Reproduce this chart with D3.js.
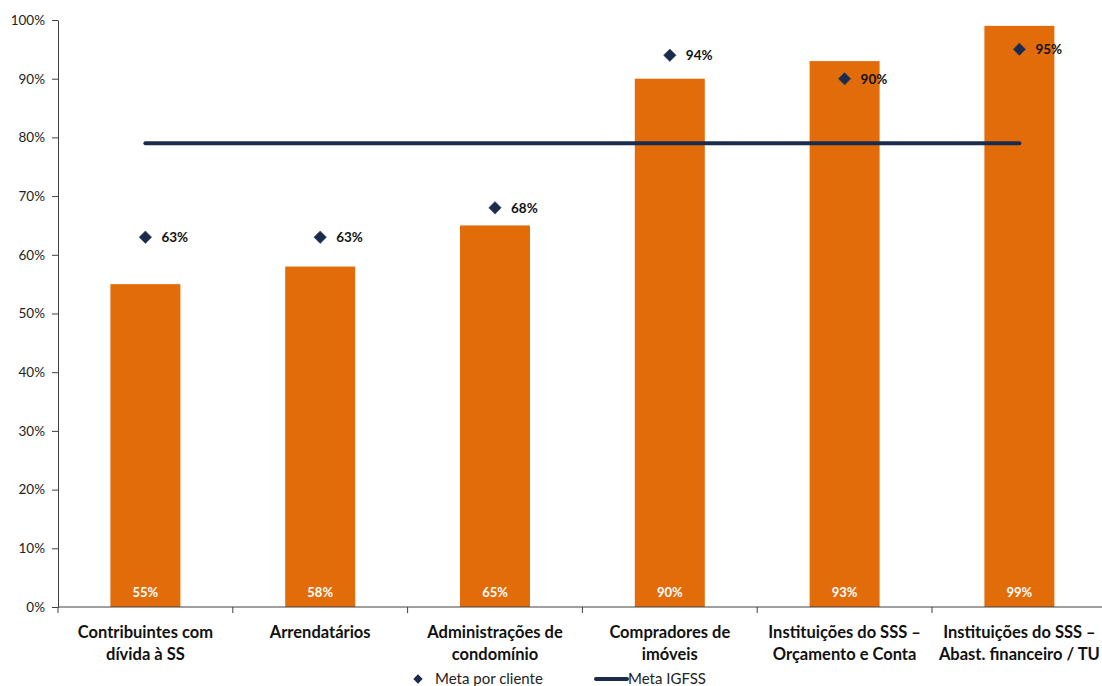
<!DOCTYPE html>
<html>
<head>
<meta charset="utf-8">
<script src="https://cdn.jsdelivr.net/npm/d3@7"></script>
<style>
  html, body { margin: 0; padding: 0; background: #fff; }
  svg { display: block; font-family: Lato, "Open Sans", sans-serif; }
</style>
</head>
<body>
<svg id="chart" width="1102" height="686"></svg>
<script>
// Categories (two-line labels)
const categories = [
  ["Contribuintes com", "dívida à SS"],
  ["Arrendatários"],
  ["Administrações de", "condomínio"],
  ["Compradores de", "imóveis"],
  ["Instituições do SSS –", "Orçamento e Conta"],
  ["Instituições do SSS –", "Abast. financeiro / TU"]
];
const results = [55, 58, 65, 90, 93, 99];        // bar values (%)
const metaCliente = [63, 63, 68, 94, 90, 95];    // target per client (%)
const metaIGFSS = 79;                             // overall target (%)
const yTicks = [0, 10, 20, 30, 40, 50, 60, 70, 80, 90, 100];

const orange = "#E36C0A";
const navy = "#1B2B4B";

const svg = d3.select("#chart");
const margin = { left: 58 };
const bandW = 174.8;
const x = d3.scaleBand()
  .domain(d3.range(categories.length))
  .range([margin.left, margin.left + bandW * categories.length])
  .paddingInner(0).paddingOuter(0);
const y = d3.scaleLinear().domain([0, 100]).range([607, 20]);
const barW = 70;
const cx = i => x(i) + x.bandwidth() / 2;

// Bars
svg.append("g").selectAll("rect").data(results).join("rect")
  .attr("x", (d, i) => cx(i) - barW / 2)
  .attr("y", d => y(d))
  .attr("width", barW)
  .attr("height", d => y(0) - y(d))
  .attr("fill", orange);

// Bar value labels (inside, at base)
svg.append("g").selectAll("text").data(results).join("text")
  .attr("x", (d, i) => cx(i))
  .attr("y", y(0) - 10)
  .attr("text-anchor", "middle")
  .attr("fill", "#fff")
  .attr("font-size", 13)
  .attr("font-weight", "bold")
  .text(d => d + "%");

// Y axis
const yAxis = d3.axisLeft(y).tickValues(yTicks).tickFormat(d => d + "%").tickSize(6).tickSizeOuter(0);
const gy = svg.append("g").attr("transform", `translate(${margin.left},0)`).call(yAxis);
gy.select(".domain").attr("stroke", "#404040");
gy.selectAll(".tick line").attr("stroke", "#404040");
gy.selectAll(".tick text").attr("font-size", 13.5).attr("fill", "#222").attr("x", -13)
  .attr("font-family", "Lato, sans-serif");

// X axis with category boundary ticks
svg.append("line")
  .attr("x1", margin.left).attr("x2", 1102)
  .attr("y1", y(0)).attr("y2", y(0))
  .attr("stroke", "#404040");
svg.append("g").selectAll("line").data(d3.range(categories.length + 1)).join("line")
  .attr("x1", i => margin.left + i * bandW).attr("x2", i => margin.left + i * bandW)
  .attr("y1", y(0)).attr("y2", y(0) + 6)
  .attr("stroke", "#404040");

// Category labels
const catG = svg.append("g").selectAll("text").data(categories).join("text")
  .attr("text-anchor", "middle")
  .attr("font-size", 16.5)
  .attr("font-weight", "bold")
  .attr("fill", "#111");
catG.each(function (lines, i) {
  const t = d3.select(this);
  lines.forEach((ln, k) => {
    t.append("tspan")
      .attr("x", cx(i))
      .attr("y", 638 + k * 21.5)
      .text(ln);
  });
});

// Meta IGFSS line
svg.append("line")
  .attr("x1", cx(0)).attr("x2", cx(categories.length - 1))
  .attr("y1", y(metaIGFSS)).attr("y2", y(metaIGFSS))
  .attr("stroke", navy).attr("stroke-width", 4).attr("stroke-linecap", "round");

// Meta por cliente diamonds
svg.append("g").selectAll("path").data(metaCliente).join("path")
  .attr("d", d3.symbol().type(d3.symbolSquare).size(78))
  .attr("transform", (d, i) => `translate(${cx(i)},${y(d)}) rotate(45)`)
  .attr("fill", navy)
  .attr("stroke", "#3a4a66").attr("stroke-width", 0.6);

svg.append("g").selectAll("text").data(metaCliente).join("text")
  .attr("x", (d, i) => cx(i) + 16)
  .attr("y", d => y(d) + 5)
  .attr("font-size", 13.5)
  .attr("font-weight", "bold")
  .attr("fill", "#111")
  .text(d => d + "%");

// Legend
const lg = svg.append("g");
lg.append("path")
  .attr("d", d3.symbol().type(d3.symbolSquare).size(44))
  .attr("transform", "translate(418,679) rotate(45)")
  .attr("fill", navy);
lg.append("text").attr("x", 435).attr("y", 684).attr("font-size", 15).attr("fill", "#222")
  .text("Meta por cliente");
lg.append("line").attr("x1", 596).attr("x2", 627).attr("y1", 679).attr("y2", 679)
  .attr("stroke", navy).attr("stroke-width", 4).attr("stroke-linecap", "round");
lg.append("text").attr("x", 628).attr("y", 684).attr("font-size", 15).attr("fill", "#222")
  .text("Meta IGFSS");
</script>
</body>
</html>
